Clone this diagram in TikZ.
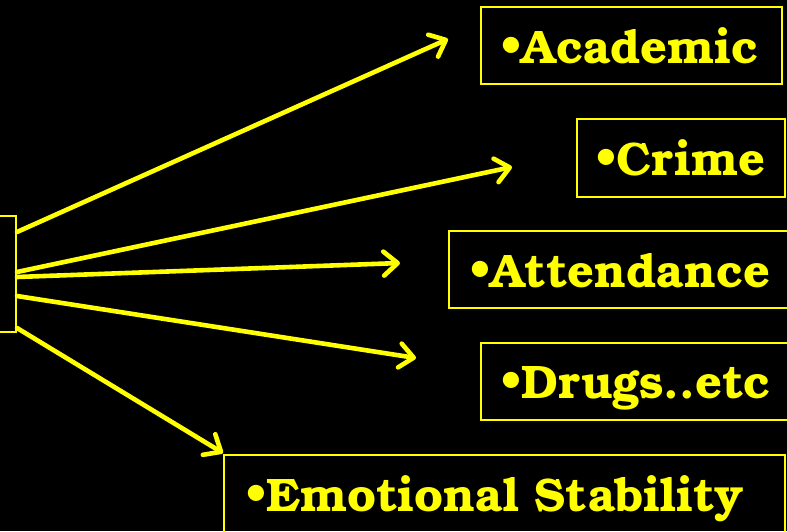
\documentclass[tikz,border=0pt]{standalone}
\usepackage{fontspec}
\setmainfont{TeX Gyre Bonum}
\usetikzlibrary{arrows.meta}
\definecolor{yel}{RGB}{255,255,0}
\tikzset{
  arr/.style={yel, line width=4.6pt, line cap=round,
    -{Straight Barb[round, length=14pt, width=24pt, line width=4.6pt]}},
  frame/.style={draw=yel, line width=1.7pt},
  lbl/.style={text=yel, font=\bfseries\fontsize{47}{50}\selectfont, anchor=base west, inner sep=0pt},
}
\begin{document}
\begin{tikzpicture}[x=1pt,y=-1pt]
\useasboundingbox (0,0) rectangle (787,531);
\fill[black] (0,0) rectangle (787,531);
\clip (0,0) rectangle (787,531);
% left box
\node[frame, anchor=north east, minimum width=40pt, minimum height=116pt, inner sep=0pt] (src) at (16.5,215) {};
% boxes
\draw[frame] (481,7) rectangle (782,84);
\draw[frame] (577,119) rectangle (785,197);
\draw[frame] (449,231) rectangle (800,308);
\draw[frame] (481,343) rectangle (800,420);
\draw[frame] (224,455) rectangle (785,560);
% labels
\node[lbl] (acad) at (500,63) {•Academic};
\node[lbl] (crime) at (595,175) {•Crime};
\node[lbl] (att) at (469,287) {•Attendance};
\node[lbl] (drug) at (500,398) {•Drugs..etc};
\node[lbl] (emo) at (245,511) {•Emotional Stability};
% arrow ends
\coordinate (s1) at (17,232);
\coordinate (s2) at (17,272);
\coordinate (s3) at (17,277);
\coordinate (s4) at (17,296);
\coordinate (s5) at (17,328);
\coordinate (e1) at (448,39);
\coordinate (e2) at (512,167);
\coordinate (e3) at (400,263);
\coordinate (e4) at (416,358);
\coordinate (e5) at (223,453);
\draw[arr] (s1) -- (e1);
\draw[arr] (s2) -- (e2);
\draw[arr] (s3) -- (e3);
\draw[arr] (s4) -- (e4);
\draw[arr] (s5) -- (e5);
\end{tikzpicture}
\end{document}
